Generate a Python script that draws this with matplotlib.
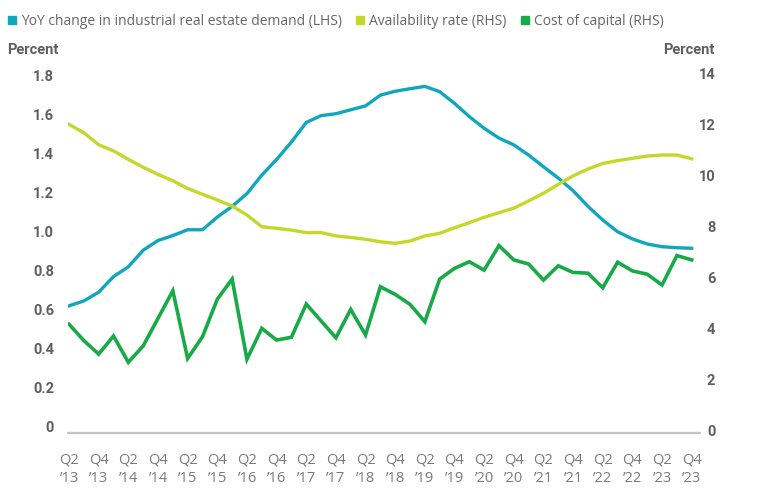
import matplotlib
matplotlib.use("Agg")
import matplotlib.pyplot as plt
from matplotlib import font_manager
from matplotlib.lines import Line2D
import numpy as np

# ---------------- data ----------------
quarters = [f"Q{q}\n\u2019{y % 100:02d}" for y in range(2013, 2024) for q in (1, 2, 3, 4)][1:]
demand_yoy = [0.62, 0.645, 0.69, 0.77, 0.82, 0.905, 0.955, 0.98, 1.01, 1.01,
              1.075, 1.13, 1.195, 1.29, 1.37, 1.46, 1.56, 1.595, 1.605, 1.625,
              1.645, 1.70, 1.72, 1.733, 1.745, 1.718, 1.658, 1.59, 1.53, 1.48,
              1.445, 1.393, 1.333, 1.275, 1.21, 1.13, 1.06, 1.0, 0.963, 0.937,
              0.923, 0.918, 0.915]
availability = [12.0, 11.67, 11.2, 10.96, 10.63, 10.32, 10.04, 9.79, 9.49, 9.26,
                9.04, 8.80, 8.45, 7.99, 7.93, 7.86, 7.76, 7.76, 7.63, 7.57,
                7.50, 7.40, 7.34, 7.43, 7.63, 7.73, 7.95, 8.15, 8.36, 8.54,
                8.72, 9.0, 9.3, 9.65, 9.98, 10.25, 10.47, 10.58, 10.67, 10.76,
                10.8, 10.8, 10.65]
cost_capital = [4.17, 3.53, 3.0, 3.71, 2.68, 3.32, 4.40, 5.48, 2.83, 3.68,
                5.15, 5.94, 2.80, 4.01, 3.55, 3.66, 4.96, 4.30, 3.64, 4.75,
                3.75, 5.64, 5.34, 4.95, 4.27, 5.94, 6.36, 6.62, 6.29, 7.25,
                6.69, 6.53, 5.90, 6.46, 6.20, 6.17, 5.60, 6.60, 6.26, 6.13,
                5.71, 6.86, 6.69]
left_ticks = [0, 0.2, 0.4, 0.6, 0.8, 1.0, 1.2, 1.4, 1.6, 1.8]
left_ticklabels = ["0", "0.2", "0.4", "0.6", "0.8", "1.0", "1.2", "1.4", "1.6", "1.8"]
right_ticks = [0, 2, 4, 6, 8, 10, 12, 14]
series_names = ["YoY change in industrial real estate demand (LHS)",
                "Availability rate (RHS)", "Cost of capital (RHS)"]

# ---------------- fonts ----------------
available = {f.name for f in font_manager.fontManager.ttflist}
def pick(*names):
    for n in names:
        if n in available:
            return n
    return "DejaVu Sans"

F_REG = pick("Open Sans", "Noto Sans", "DejaVu Sans")
F_COND = pick("Liberation Sans Narrow", "Roboto", "Open Sans", "DejaVu Sans")

C_CYAN = "#10A7BE"
C_YEL = "#C4D82A"
C_GRN = "#17AA46"
C_TXT = "#666666"
C_TICK = "#5f5f5f"

fig = plt.figure(figsize=(7.6, 4.96), dpi=100)
W, H = 760, 496
ax = fig.add_axes([68 / W, 1 - 433 / H, 632 / W, 363 / H])
ax2 = ax.twinx()

x = np.arange(len(quarters))
ax.plot(x, demand_yoy, color=C_CYAN, lw=2.4, solid_joinstyle="round", zorder=3)
ax2.plot(x, availability, color=C_YEL, lw=2.4, solid_joinstyle="round", zorder=3)
ax2.plot(x, cost_capital, color=C_GRN, lw=2.6, solid_joinstyle="miter", zorder=4)

ax.set_xlim(-0.07, 42.56)
ax.set_ylim(-0.032, 1.829)
ax2.set_ylim(-0.09, 14.13)

for a in (ax, ax2):
    for s in ("top", "left", "right"):
        a.spines[s].set_visible(False)
ax.spines["bottom"].set_color("#c4c4c4")
ax.spines["bottom"].set_linewidth(1.6)
ax2.spines["bottom"].set_visible(False)

ax.set_xticks(x[::2])
ax.set_xticklabels(quarters[::2], fontsize=10.5, color="#7a7a7a",
                   family=F_REG, linespacing=1.3)
ax.tick_params(axis="x", length=0, pad=14)

ax.set_yticks(left_ticks)
ax.set_yticklabels(left_ticklabels, fontsize=10.5, color=C_TICK,
                   family=F_COND, fontweight="bold")
ax.tick_params(axis="y", length=0, pad=10)

ax2.set_yticks(right_ticks)
ax2.set_yticklabels([str(t) for t in right_ticks], fontsize=10.5, color=C_TICK,
                    family=F_COND, fontweight="bold")
ax2.tick_params(axis="y", length=0, pad=11)
for lab in ax2.get_yticklabels():
    lab.set_horizontalalignment("right")

fig.text(58 / W, 1 - 50 / H, "Percent", ha="right", va="center",
         fontsize=10.5, color=C_TICK, family=F_COND, fontweight="bold")
fig.text(715 / W, 1 - 50 / H, "Percent", ha="right", va="center",
         fontsize=10.5, color=C_TICK, family=F_COND, fontweight="bold")

handles = [Line2D([], [], marker="s", ls="none", color=c, markersize=6)
           for c in (C_CYAN, C_YEL, C_GRN)]
leg = fig.legend(handles, series_names, loc="upper left",
                 bbox_to_anchor=(-0.004, 1 - 3 / H), ncol=3, frameon=False,
                 prop={"family": F_REG, "size": 10}, handlelength=0.6,
                 handletextpad=0.35, columnspacing=1.0, borderaxespad=0.4)
for t in leg.get_texts():
    t.set_color(C_TXT)

fig.savefig("out.png", dpi=100)
